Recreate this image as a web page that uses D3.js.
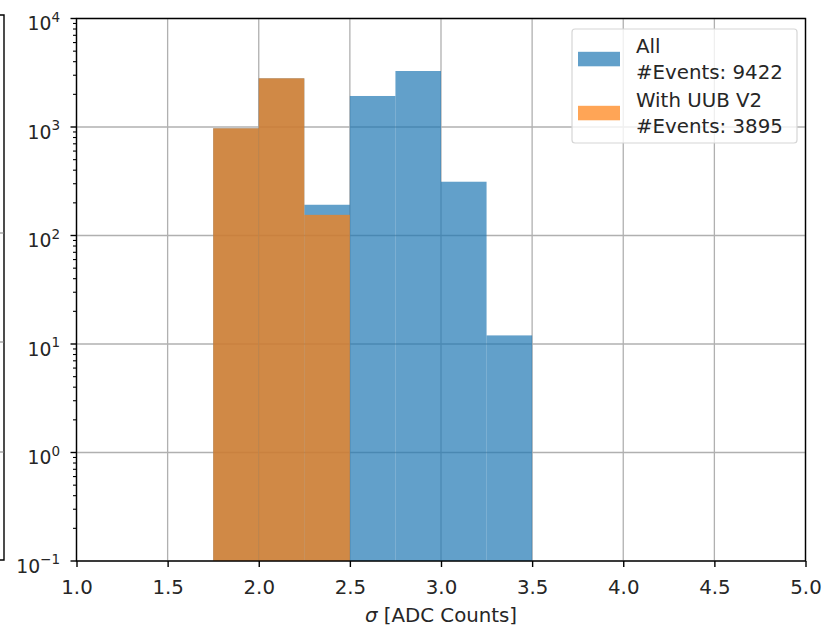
<!DOCTYPE html>
<html>
<head>
<meta charset="utf-8">
<script src="https://d3js.org/d3.v7.min.js"></script>
<style>
  body { margin: 0; background: #fff; }
  svg { font-family: "DejaVu Sans", sans-serif; }
</style>
</head>
<body>
<svg id="chart" width="825" height="627"></svg>
<script>
// histogram bins (sigma, ADC counts)
var binEdges = [1.75, 2.0, 2.25, 2.5, 2.75, 3.0, 3.25, 3.5];
var allCounts = [973, 2810, 192, 1931, 3282, 313, 12];
var uubCounts = [973, 2810, 155, 0, 0, 0, 0];
var xTicks = [1.0, 1.5, 2.0, 2.5, 3.0, 3.5, 4.0, 4.5, 5.0];
var yExponents = [-1, 0, 1, 2, 3, 4];
var legendLabels = [["All", "#Events: 9422"], ["With UUB V2", "#Events: 3895"]];

var svg = d3.select("#chart");
var plotL = 76.5, plotR = 805.5, plotT = 18.5, plotB = 561;
var fs = "19.8px";

var x = d3.scaleLinear().domain([1, 5]).range([plotL, plotR]);
var y = d3.scaleLog().domain([0.1, 1e4]).range([plotB, plotT]);

// piece of the neighbouring subplot on the far left
svg.append("path")
    .attr("d", "M0,15H4V560H0")
    .attr("fill", "none").attr("stroke", "#000").attr("stroke-width", 1.4);
[233, 342, 452].forEach(function(v) {
  svg.append("line").attr("x1", 0).attr("x2", 3.5).attr("y1", v).attr("y2", v)
    .attr("stroke", "#999").attr("stroke-width", 1.3);
});

// grid
var grid = svg.append("g").attr("stroke", "#b0b0b0").attr("stroke-width", 1.3);
xTicks.forEach(function(t) {
  grid.append("line").attr("x1", x(t)).attr("x2", x(t)).attr("y1", plotT).attr("y2", plotB);
});
yExponents.forEach(function(e) {
  var v = Math.pow(10, e);
  grid.append("line").attr("x1", plotL).attr("x2", plotR).attr("y1", y(v)).attr("y2", y(v));
});

function drawHist(counts, color) {
  svg.append("g").selectAll("rect")
    .data(counts.map(function(c, i) { return {x0: binEdges[i], x1: binEdges[i + 1], c: c}; })
                .filter(function(d) { return d.c > 0; }))
    .enter().append("rect")
    .attr("x", function(d) { return x(d.x0); })
    .attr("width", function(d) { return x(d.x1) - x(d.x0); })
    .attr("y", function(d) { return y(d.c); })
    .attr("height", function(d) { return plotB - y(d.c); })
    .attr("fill", color)
    .attr("fill-opacity", 0.7);
}
drawHist(allCounts, "#1f77b4");
drawHist(uubCounts, "#ff7f0e");

// axes
var xAxis = svg.append("g").attr("transform", "translate(0," + plotB + ")")
  .call(d3.axisBottom(x).tickValues(xTicks).tickFormat(d3.format(".1f")).tickSize(6));
xAxis.select(".domain").remove();
xAxis.selectAll("line").attr("stroke-width", 1.4);
xAxis.selectAll("text").attr("font-size", fs).attr("fill", "#262626")
  .attr("font-family", "DejaVu Sans").attr("y", 32.5).attr("dy", 0);

var minorVals = [];
for (var e = -1; e < 4; e++) {
  for (var m = 2; m <= 9; m++) minorVals.push(m * Math.pow(10, e));
}
var yAxis = svg.append("g").attr("transform", "translate(" + plotL + ",0)");
yAxis.selectAll(".minor").data(minorVals).enter().append("line")
  .attr("x1", -3.5).attr("x2", 0)
  .attr("y1", function(d) { return y(d); }).attr("y2", function(d) { return y(d); })
  .attr("stroke", "#000").attr("stroke-width", 1.1);
yAxis.selectAll(".major").data(yExponents).enter().append("line")
  .attr("x1", -6).attr("x2", 0)
  .attr("y1", function(d) { return y(Math.pow(10, d)); })
  .attr("y2", function(d) { return y(Math.pow(10, d)); })
  .attr("stroke", "#000").attr("stroke-width", 1.4);
var ylab = yAxis.selectAll(".lab").data(yExponents).enter().append("text")
  .attr("x", -16.5).attr("y", function(d) { return y(Math.pow(10, d)) + 11.5; })
  .attr("text-anchor", "end").attr("font-size", "18.8px").attr("fill", "#262626");
ylab.append("tspan").text("10");
ylab.append("tspan").attr("dy", -8.5).attr("font-size", "13.5px")
  .text(function(d) { return d < 0 ? "\u2212" + (-d) : d; });

// frame
svg.append("rect").attr("x", plotL).attr("y", plotT)
  .attr("width", plotR - plotL).attr("height", plotB - plotT)
  .attr("fill", "none").attr("stroke", "#000").attr("stroke-width", 1.4);

// x label
var xl = svg.append("text").attr("x", (plotL + plotR) / 2).attr("y", 621.5)
  .attr("text-anchor", "middle").attr("font-size", fs).attr("fill", "#262626");
xl.append("tspan").attr("font-style", "italic").text("\u03c3");
xl.append("tspan").text(" [ADC Counts]");

// legend
var leg = svg.append("g");
leg.append("rect").attr("x", 572).attr("y", 29).attr("width", 225).attr("height", 114)
  .attr("rx", 3).attr("fill", "#fff").attr("fill-opacity", 0.8)
  .attr("stroke", "#d6d6d6").attr("stroke-width", 1.2);
var legColors = ["#1f77b4", "#ff7f0e"];
legendLabels.forEach(function(lines, i) {
  var y0 = 53.3 + i * 54;
  leg.append("rect").attr("x", 578).attr("y", y0 - 1.5).attr("width", 42).attr("height", 14.5)
    .attr("fill", legColors[i]).attr("fill-opacity", 0.7);
  lines.forEach(function(s, j) {
    leg.append("text").attr("x", 636).attr("y", y0 + j * 25.5)
      .attr("font-size", fs).attr("fill", "#262626").text(s);
  });
});
</script>
</body>
</html>
